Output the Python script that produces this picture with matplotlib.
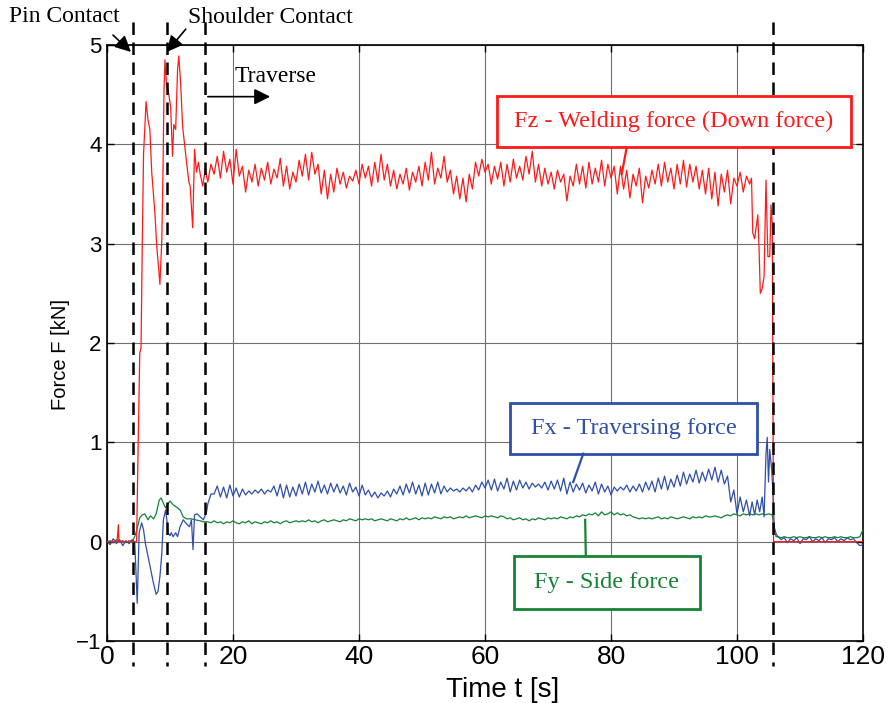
import numpy as np
import matplotlib
matplotlib.use("Agg")
import matplotlib.pyplot as plt
from matplotlib.patches import Rectangle

# ---------------- data ----------------
# start-up phase (plunge / dwell), hand-read points
fz_start_t = [0, 1.0, 1.6, 1.8, 1.9, 3.0, 4.7, 4.9, 5.2, 5.4, 5.6, 5.8, 6.2, 6.5, 6.8, 7.1, 7.6, 7.9,
              8.2, 8.4, 8.7, 8.9, 9.05, 9.2, 9.45, 9.7, 10.1, 10.4, 10.6, 10.9, 11.2, 11.4, 11.7,
              12.0, 12.4, 12.7, 13.0, 13.2, 13.6, 13.9, 14.2, 14.5, 14.8, 15.2, 15.6]
fz_start_v = [0.0, 0.0, 0.0, 0.17, 0.0, 0.0, 0.0, 0.8, 1.9, 1.95, 3.0, 3.9, 4.43, 4.25, 4.15, 3.72, 3.31, 2.97,
              2.75, 2.59, 3.04, 3.78, 4.55, 4.85, 4.6, 4.55, 4.38, 3.88, 4.2, 4.15, 4.75, 4.89, 4.6,
              4.18, 3.95, 3.78, 3.62, 3.58, 3.16, 3.95, 3.72, 3.82, 3.7, 3.58, 3.75]

fx_start_t = [0, 0.5, 1.0, 1.5, 2.0, 2.5, 3.0, 3.5, 4.0, 4.4, 4.8, 5.1, 5.5, 5.8, 6.1, 6.7, 7.0, 7.35, 7.8,
              8.1, 8.4, 8.7, 8.95, 9.3, 9.5, 9.7, 10.0, 10.2, 10.5, 10.9, 11.2, 11.6, 12.1, 12.6, 13.1,
              13.4, 13.65, 13.9, 14.3, 14.8, 15.3, 15.8]
fx_start_v = [0.0, -0.03, 0.03, -0.02, 0.02, -0.04, 0.01, -0.02, 0.02, 0.0, -0.62, 0.09, 0.19, 0.12, -0.02,
              -0.21, -0.30, -0.41, -0.53, -0.50, -0.35, -0.12, 0.22, 0.32, 0.22, 0.09, 0.06, 0.09, 0.05,
              0.09, 0.05, 0.15, 0.22, 0.18, 0.15, 0.22, -0.08, 0.27, 0.28, 0.25, 0.22, 0.30]

fy_start_t = [0, 0.5, 1.0, 1.5, 2.0, 2.5, 3.0, 3.5, 4.0, 4.4, 4.7, 5.2, 5.6, 6.0, 6.5, 6.9, 7.4, 7.8, 8.3,
              8.6, 9.0, 9.3, 9.6, 10.0, 10.5, 11.0, 11.6, 12.1, 12.6, 13.3, 14.0, 14.8, 15.3]
fy_start_v = [0.0, 0.01, -0.01, 0.02, 0.0, 0.01, -0.01, 0.01, 0.0, 0.05, 0.11, 0.24, 0.27, 0.28, 0.22, 0.26,
              0.23, 0.28, 0.42, 0.44, 0.38, 0.34, 0.37, 0.41, 0.37, 0.35, 0.32, 0.25, 0.23, 0.23, 0.22,
              0.21, 0.20]

# traverse phase, sampled every 0.5 s from 16 s to 102 s
trav_t = np.arange(16.0, 102.01, 0.5)
fz_trav = [3.62, 3.80, 3.70, 3.88, 3.66, 3.93, 3.72, 3.85, 3.60, 3.95,
           3.68, 3.78, 3.52, 3.74, 3.62, 3.80, 3.58, 3.76, 3.64, 3.82,
           3.60, 3.75, 3.66, 3.86, 3.58, 3.78, 3.55, 3.72, 3.62, 3.84,
           3.68, 3.90, 3.64, 3.92, 3.70, 3.80, 3.50, 3.74, 3.45, 3.70,
           3.52, 3.76, 3.60, 3.72, 3.56, 3.68, 3.63, 3.74, 3.60, 3.80,
           3.66, 3.78, 3.58, 3.82, 3.62, 3.90, 3.64, 3.80, 3.58, 3.74,
           3.55, 3.70, 3.60, 3.76, 3.54, 3.72, 3.62, 3.78, 3.58, 3.82,
           3.64, 3.92, 3.60, 3.76, 3.66, 3.88, 3.62, 3.74, 3.50, 3.68,
           3.45, 3.66, 3.42, 3.70, 3.55, 3.82, 3.68, 3.85, 3.72, 3.80,
           3.60, 3.78, 3.65, 3.82, 3.58, 3.80, 3.62, 3.85, 3.66, 3.78,
           3.64, 3.88, 3.70, 3.93, 3.62, 3.80, 3.58, 3.76, 3.60, 3.72,
           3.55, 3.74, 3.62, 3.70, 3.43, 3.68, 3.58, 3.80, 3.60, 3.78,
           3.56, 3.82, 3.60, 3.76, 3.62, 3.84, 3.58, 3.80, 3.66, 3.78,
           3.50, 3.78, 3.55, 3.74, 3.46, 3.70, 3.58, 3.76, 3.41, 3.68,
           3.56, 3.74, 3.60, 3.80, 3.58, 3.82, 3.62, 3.76, 3.55, 3.80,
           3.60, 3.84, 3.57, 3.80, 3.62, 3.78, 3.55, 3.74, 3.50, 3.76,
           3.45, 3.72, 3.38, 3.70, 3.52, 3.74, 3.40, 3.66, 3.58, 3.72,
           3.52, 3.68, 3.60]
fx_trav = [0.38, 0.48, 0.48, 0.56, 0.45, 0.55, 0.44, 0.57, 0.46, 0.54,
           0.45, 0.53, 0.47, 0.51, 0.48, 0.52, 0.49, 0.53, 0.48, 0.52,
           0.50, 0.56, 0.46, 0.58, 0.44, 0.57, 0.45, 0.55, 0.46, 0.58,
           0.48, 0.60, 0.47, 0.58, 0.50, 0.61, 0.49, 0.57, 0.48, 0.59,
           0.50, 0.58, 0.49, 0.56, 0.47, 0.59, 0.50, 0.55, 0.46, 0.57,
           0.47, 0.52, 0.45, 0.50, 0.44, 0.49, 0.46, 0.51, 0.45, 0.53,
           0.48, 0.56, 0.47, 0.58, 0.49, 0.60, 0.48, 0.57, 0.46, 0.59,
           0.47, 0.58, 0.49, 0.60, 0.48, 0.56, 0.50, 0.54, 0.51, 0.53,
           0.50, 0.54, 0.51, 0.55, 0.50, 0.57, 0.52, 0.60, 0.54, 0.62,
           0.52, 0.63, 0.51, 0.60, 0.53, 0.64, 0.50, 0.61, 0.52, 0.62,
           0.54, 0.60, 0.53, 0.59, 0.55, 0.58, 0.54, 0.60, 0.52, 0.61,
           0.53, 0.62, 0.51, 0.64, 0.48, 0.60, 0.50, 0.58, 0.52, 0.59,
           0.49, 0.57, 0.51, 0.60, 0.48, 0.58, 0.50, 0.56, 0.47, 0.55,
           0.51, 0.55, 0.52, 0.57, 0.50, 0.56, 0.51, 0.58, 0.50, 0.60,
           0.52, 0.61, 0.50, 0.64, 0.53, 0.66, 0.52, 0.63, 0.55, 0.67,
           0.56, 0.70, 0.58, 0.68, 0.60, 0.72, 0.59, 0.70, 0.61, 0.73,
           0.62, 0.75, 0.60, 0.72, 0.58, 0.66, 0.40, 0.52, 0.28, 0.45,
           0.30, 0.42, 0.26]
fy_trav = [0.20, 0.19, 0.21, 0.19, 0.20, 0.18, 0.20, 0.19, 0.21, 0.19,
           0.18, 0.20, 0.19, 0.21, 0.18, 0.20, 0.19, 0.18, 0.20, 0.19,
           0.21, 0.19, 0.20, 0.18, 0.20, 0.21, 0.19, 0.20, 0.21, 0.20,
           0.21, 0.20, 0.22, 0.20, 0.21, 0.19, 0.21, 0.22, 0.20, 0.21,
           0.22, 0.21, 0.20, 0.22, 0.21, 0.23, 0.22, 0.21, 0.23, 0.22,
           0.23, 0.22, 0.23, 0.21, 0.22, 0.23, 0.22, 0.21, 0.23, 0.22,
           0.21, 0.23, 0.22, 0.24, 0.22, 0.23, 0.24, 0.22, 0.24, 0.23,
           0.24, 0.23, 0.25, 0.24, 0.23, 0.25, 0.24, 0.25, 0.23, 0.24,
           0.25, 0.24, 0.26, 0.24, 0.25, 0.26, 0.25, 0.24, 0.26, 0.25,
           0.26, 0.25, 0.24, 0.26, 0.25, 0.23, 0.24, 0.22, 0.23, 0.24,
           0.22, 0.23, 0.21, 0.23, 0.22, 0.24, 0.23, 0.22, 0.24, 0.23,
           0.24, 0.23, 0.25, 0.24, 0.23, 0.25, 0.24, 0.26, 0.25, 0.27,
           0.26, 0.28, 0.27, 0.29, 0.26, 0.30, 0.27, 0.28, 0.30, 0.27,
           0.29, 0.27, 0.28, 0.26, 0.27, 0.25, 0.24, 0.23, 0.24, 0.23,
           0.24, 0.23, 0.24, 0.25, 0.23, 0.24, 0.23, 0.25, 0.24, 0.23,
           0.24, 0.25, 0.24, 0.23, 0.25, 0.24, 0.25, 0.24, 0.26, 0.25,
           0.25, 0.26, 0.25, 0.24, 0.26, 0.27, 0.26, 0.28, 0.27, 0.26,
           0.28, 0.27, 0.28]

# retraction phase
fz_end_t = [102.3, 102.5, 102.8, 103.3, 103.5, 103.7, 104.0, 104.3, 104.6, 104.9, 105.2, 105.4, 105.6, 105.8, 106.5, 120.0]
fz_end_v = [3.66, 3.11, 3.05, 3.29, 2.95, 2.50, 2.55, 2.67, 3.64, 2.87, 2.87, 3.39, 3.20, 0.0, 0.0, 0.0]

fx_end_t = [102.4, 102.8, 103.2, 103.6, 104.0, 104.3, 104.6, 104.8, 105.0, 105.2, 105.5, 105.7, 105.9, 106.2]
fx_end_v = [0.40, 0.27, 0.42, 0.30, 0.45, 0.25, 0.88, 1.05, 0.60, 0.93, 0.73, 0.50, 0.15, 0.08]

fy_end_t = [102.5, 103.0, 103.5, 104.0, 104.5, 105.0, 105.6, 105.9, 106.2]
fy_end_v = [0.27, 0.28, 0.27, 0.28, 0.27, 0.28, 0.27, 0.12, 0.05]

tail_t = np.arange(106.5, 120.01, 0.5)
fx_tail = [0.05, 0.02, 0.04, -0.01, 0.03, 0.01, 0.04, -0.02, 0.03, 0.02, 0.05, 0.00, 0.03, 0.01,
           0.04, -0.01, 0.03, 0.02, 0.04, 0.00, 0.03, 0.01, 0.04, 0.02, 0.03, -0.01, -0.04, -0.03]
fy_tail = [0.05, 0.04, 0.05, 0.04, 0.04, 0.05, 0.04, 0.05, 0.04, 0.04, 0.05, 0.04, 0.04, 0.05,
           0.04, 0.05, 0.04, 0.04, 0.05, 0.04, 0.05, 0.04, 0.04, 0.05, 0.04, 0.04, 0.05, 0.12]

phase_lines = [4.1, 9.5, 15.6, 105.7]

x_ticks = [0, 20, 40, 60, 80, 100, 120]
y_ticks = [-1, 0, 1, 2, 3, 4, 5]

# ---------------- assemble ----------------
t_fz = np.concatenate([fz_start_t, trav_t, fz_end_t])
v_fz = np.concatenate([fz_start_v, fz_trav, fz_end_v])
t_fx = np.concatenate([fx_start_t, trav_t, fx_end_t, tail_t])
v_fx = np.concatenate([fx_start_v, fx_trav, fx_end_v, fx_tail])
t_fy = np.concatenate([fy_start_t, trav_t, fy_end_t, tail_t])
v_fy = np.concatenate([fy_start_v, fy_trav, fy_end_v, fy_tail])

RED = "#ff1a1a"
BLUE = "#2f4fa8"
GREEN = "#168236"
serif = ["Liberation Serif", "DejaVu Serif"]
sans = ["Liberation Sans", "DejaVu Sans"]

fig = plt.figure(figsize=(8.88, 7.03), dpi=100)
ax = fig.add_axes([107/888, 1-641/703, (863-107)/888, (641-45)/703])

ax.plot(t_fy, v_fy, color=GREEN, lw=0.9, zorder=3)
ax.plot(t_fx, v_fx, color=BLUE, lw=0.9, zorder=4)
ax.plot(t_fz, v_fz, color=RED, lw=0.9, zorder=5)

ax.set_xlim(0, 120)
ax.set_ylim(-1, 5)
ax.set_xticks(x_ticks)
ax.set_yticks(y_ticks)
ax.grid(True, color="#707070", lw=0.8)
ax.set_axisbelow(True)
ax.tick_params(direction="in", top=True, right=True, length=5, width=1, pad=4)
ax.tick_params(axis="y", labelsize=16)
ax.tick_params(axis="x", labelsize=19, pad=3)
for lab in ax.get_xticklabels() + ax.get_yticklabels():
    lab.set_family(sans)
for s in ax.spines.values():
    s.set_linewidth(1.2)
ax.set_xlabel("Time t [s]", fontsize=20, family=sans)
ax.xaxis.set_label_coords((503 - 107) / 756, -(690 - 641) / 596)
ax.xaxis.label.set_va("center")
ax.set_ylabel("Force F [kN]", fontsize=14.5, family=sans)
ax.yaxis.set_label_coords((60 - 107) / 756, (641 - 355) / 596)
ax.yaxis.label.set_va("center")

# phase dashed lines (extend beyond axes)
for xv in phase_lines:
    ax.plot([xv, xv], [5.23, -1.25], color="black", lw=1.8, ls=(0, (5, 3)), clip_on=False, zorder=6)

# annotations
arrow_kw = dict(arrowstyle="-|>", color="black", lw=1.2, mutation_scale=24, shrinkA=0, shrinkB=0)
ax.annotate("", xy=(3.8, 4.93), xytext=(0.95, 5.10), arrowprops=arrow_kw, annotation_clip=False)
ax.text(-6.8, 5.29, "Pin Contact", ha="center", va="center", fontsize=17, family=serif, clip_on=False)
ax.annotate("", xy=(9.5, 4.93), xytext=(12.5, 5.16), arrowprops=arrow_kw, annotation_clip=False)
ax.text(26.0, 5.28, "Shoulder Contact", ha="center", va="center", fontsize=17, family=serif, clip_on=False)
ax.annotate("", xy=(25.9, 4.48), xytext=(16.0, 4.48), arrowprops=arrow_kw)
ax.text(26.8, 4.68, "Traverse", ha="center", va="center", fontsize=17, family=serif)

boxes = [
    ("Fz - Welding force (Down force)", RED, (61.9, 3.97), (118.1, 4.49), (82.5, 3.97), (81.7, 3.70)),
    ("Fx - Traversing force", BLUE, (63.97, 0.886), (103.2, 1.40), (75.6, 0.886), (74.0, 0.60)),
    ("Fy - Side force", GREEN, (64.6, -0.674), (94.1, -0.14), (76.0, -0.14), (75.9, 0.22)),
]
for txt, col, (x0, y0), (x1, y1), p0, p1 in boxes:
    ax.add_patch(Rectangle((x0, y0), x1 - x0, y1 - y0, facecolor="white", edgecolor=col, lw=2.0, zorder=7))
    ax.text((x0 + x1) / 2, (y0 + y1) / 2, txt, color=col, ha="center", va="center",
            fontsize=17.5, family=serif, zorder=8)
    ax.plot([p0[0], p1[0]], [p0[1], p1[1]], color=col, lw=1.6, zorder=7)

fig.savefig("out.png", dpi=100)
